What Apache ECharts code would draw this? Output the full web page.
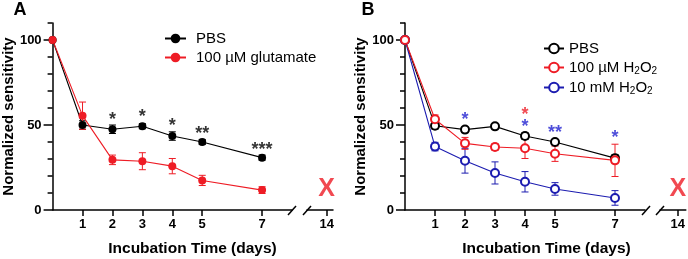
<!DOCTYPE html>
<html>
<head>
<meta charset="utf-8">
<script src="https://cdn.jsdelivr.net/npm/echarts@6/dist/echarts.min.js"></script>
<style>
  html, body { margin: 0; padding: 0; background: #fff; }
  #chart { width: 688px; height: 259px; }
</style>
</head>
<body>
<div id="chart"></div>
<script>
// x values (days) and tick labels
const days = [0, 1, 2, 3, 4, 5, 7];
const dayTicks = [1, 2, 3, 4, 5, 7];
const lateTicks = [14];
const yLabels = [0, 50, 100];
const yMinor = [10, 20, 30, 40, 60, 70, 80, 90, 110];

// Panel A
const pbsA = [100, 50, 47.5, 49.3, 43.5, 40, 30.8];
const pbsAErr = [0, 2.5, 2.5, 1.5, 2.5, 1.5, 1.5];
const gluA = [100, 55.5, 29.5, 28.7, 25.8, 17.4, 11.7];
const gluAErr = [0, 8, 2.8, 5, 4.5, 3, 2];
const starDaysA = [2, 3, 4, 5, 7];
const starPosA = [55.3, 57, 52, 47, 37.6];
const starTextA = ['*', '*', '*', '**', '***'];

// Panel B
const pbsB = [100, 49.6, 47.3, 49.2, 43.5, 40, 30.5];
const pbsBErr = [0, 2, 1.5, 1, 2, 1.5, 2];
const h100B = [100, 53.4, 39.2, 37.1, 36.3, 33.1, 29.2];
const h100BErr = [0, 2.5, 3.5, 2, 6, 4.5, 9.5];
const h10B = [100, 37.3, 29, 21.8, 16.6, 12.4, 7.1];
const h10BErr = [0, 2.5, 7.3, 6.5, 6, 3.7, 4.3];
const starDaysB10 = [2, 4, 5, 7];
const starPosB10 = [55, 51, 47.5, 44.7];
const starTextB10 = ['*', '*', '**', '*'];
const starDaysB100 = [4];
const starPosB100 = [58.2];
const starTextB100 = ['*'];

// day 14: no surviving cells
const deadDay = [14];
const deadPos = [12.4];

const FONT = '"Liberation Sans", Arial, sans-serif';
const RED = '#ee1c25';
const BLUE = '#1c1cb0';

const chart = echarts.init(document.getElementById('chart'));

function errRender(params, api) {
  const x = api.value(0);
  const top = api.coord([x, api.value(2)]);
  const bot = api.coord([x, api.value(1)]);
  const w = 3.5;
  const style = { stroke: api.visual('color'), lineWidth: 1 };
  return {
    type: 'group',
    children: [
      { type: 'line', shape: { x1: top[0], y1: top[1], x2: bot[0], y2: bot[1] }, style },
      { type: 'line', shape: { x1: top[0] - w, y1: top[1], x2: top[0] + w, y2: top[1] }, style },
      { type: 'line', shape: { x1: bot[0] - w, y1: bot[1], x2: bot[0] + w, y2: bot[1] }, style }
    ]
  };
}

function errSeries(vals, errs, color, xi, yi) {
  return {
    type: 'custom',
    xAxisIndex: xi, yAxisIndex: yi,
    itemStyle: { color },
    renderItem: errRender,
    encode: { x: 0, y: [1, 2] },
    data: days.map((d, i) => [d, vals[i] - errs[i], vals[i] + errs[i]]),
    silent: true,
    z: 3
  };
}

function lineSeries(name, vals, color, open, xi, yi) {
  return {
    name,
    type: 'line',
    xAxisIndex: xi, yAxisIndex: yi,
    data: days.map((d, i) => [d, vals[i]]),
    symbol: open ? 'emptyCircle' : 'circle',
    symbolSize: 8,
    itemStyle: { color, borderWidth: open ? 1.6 : 0 },
    lineStyle: { color, width: 1.1 },
    z: 4
  };
}

function starSeries(ds, pos, txt, color, xi, yi) {
  return {
    type: 'scatter',
    xAxisIndex: xi, yAxisIndex: yi,
    symbolSize: 0,
    data: ds.map((d, i) => ({ value: [d, pos[i]], label: { formatter: txt[i] } })),
    label: {
      show: true, position: 'inside', offset: [0, 4],
      color, fontSize: 18, fontWeight: 'bold', fontFamily: FONT
    },
    silent: true, z: 5
  };
}

function deadSeries(xi, yi) {
  return {
    type: 'scatter',
    xAxisIndex: xi, yAxisIndex: yi,
    symbolSize: 0,
    data: deadDay.map((d, i) => [d, deadPos[i]]),
    label: {
      show: true, position: 'inside', formatter: 'X',
      color: RED, fontSize: 25, fontWeight: 'bold', fontFamily: FONT
    },
    silent: true, z: 5
  };
}

const axisLine = { lineStyle: { color: '#000', width: 1.5 } };
const labelStyle = { color: '#000', fontSize: 13, fontWeight: 'bold', fontFamily: FONT };

function mainX(gi) {
  return {
    type: 'value', gridIndex: gi, min: 0, max: 8,
    axisLine: { onZero: false, ...axisLine },
    axisTick: { customValues: dayTicks, length: 6, lineStyle: { color: '#000', width: 1.5 } },
    axisLabel: { customValues: dayTicks, margin: 8, ...labelStyle },
    splitLine: { show: false }
  };
}
function lateX(gi, min, max) {
  return {
    type: 'value', gridIndex: gi, min, max,
    axisLine: { onZero: false, ...axisLine },
    axisTick: { customValues: lateTicks, length: 6, lineStyle: { color: '#000', width: 1.5 } },
    axisLabel: { customValues: lateTicks, margin: 8, ...labelStyle },
    splitLine: { show: false }
  };
}
function minorY(gi) {
  return {
    type: 'value', gridIndex: gi, min: 0, max: 110, position: 'left',
    name: 'Normalized sensitivity', nameLocation: 'middle', nameGap: 36,
    nameTextStyle: { color: '#000', fontSize: 15, fontWeight: 'bold', fontFamily: FONT },
    axisLine: { show: true, onZero: false, ...axisLine },
    axisTick: { show: true, customValues: yMinor, length: 5, lineStyle: { color: '#000', width: 1.5 } },
    axisLabel: { customValues: yLabels, margin: 11, ...labelStyle },
    splitLine: { show: false }
  };
}
function majorY(gi) {
  return {
    type: 'value', gridIndex: gi, min: 0, max: 110, position: 'left', offset: 0,
    axisLine: { show: false, onZero: false },
    axisTick: { show: true, customValues: yLabels, length: 9, lineStyle: { color: '#000', width: 1.5 } },
    axisLabel: { show: false },
    splitLine: { show: false }
  };
}
function hiddenY(gi) {
  return { type: 'value', gridIndex: gi, min: 0, max: 110, show: false };
}

const slashesA = [292, 307];
const slashesB = [646, 660];
function slash(cx) {
  return {
    type: 'line',
    shape: { x1: cx - 4, y1: 215, x2: cx + 4, y2: 206 },
    style: { stroke: '#000', lineWidth: 1.5 }
  };
}
function txt(text, x, y, size) {
  return {
    type: 'text', x, y,
    style: { text, fill: '#000', font: 'bold ' + size + 'px ' + FONT, align: 'center', verticalAlign: 'middle' }
  };
}

const legendRich = {
  n: { fontSize: 15, fontFamily: FONT, color: '#000' },
  s: { fontSize: 10, fontFamily: FONT, color: '#000', padding: [7, 0, 0, 0] }
};

chart.setOption({
  animation: false,
  grid: [
    { left: 52, top: 23, width: 240, height: 187 },
    { left: 307, top: 23, width: 26, height: 187 },
    { left: 405, top: 23, width: 240, height: 187 },
    { left: 660, top: 23, width: 28, height: 187 }
  ],
  xAxis: [
    mainX(0),
    lateX(1, 13.343, 14.21),
    mainX(2),
    lateX(3, 13.357, 14.29)
  ],
  yAxis: [
    minorY(0),
    hiddenY(1),
    minorY(2),
    hiddenY(3),
    majorY(0),
    majorY(2)
  ],
  legend: [
    {
      data: ['PBS', '100 µM glutamate'],
      orient: 'vertical', left: 159, top: 26,
      itemWidth: 21, itemHeight: 12, itemGap: 4,
      textStyle: { color: '#000', fontSize: 15, fontFamily: FONT, padding: [0, 0, 0, 5] }
    },
    {
      data: ['PBS ', '100 µM H2O2', '10 mM H2O2'],
      orient: 'vertical', left: 538, top: 36,
      itemWidth: 20, itemHeight: 12, itemGap: 4,
      formatter: name => {
        const n = name.trim();
        if (n.indexOf('H2O2') < 0) return '{n|' + n + '}';
        return '{n|' + n.replace('H2O2', 'H') + '}{s|2}{n|O}{s|2}';
      },
      textStyle: { color: '#000', fontSize: 15, fontFamily: FONT, rich: legendRich }
    }
  ],
  graphic: [
    txt('A', 20, 10, 18),
    txt('B', 368, 10, 18),
    txt('Incubation Time (days)', 192.5, 249, 15.5),
    txt('Incubation Time (days)', 546.5, 249, 15.5),
    ...slashesA.map(slash),
    ...slashesB.map(slash)
  ],
  series: [
    errSeries(pbsA, pbsAErr, '#000', 0, 0),
    lineSeries('PBS', pbsA, '#000', false, 0, 0),
    errSeries(gluA, gluAErr, RED, 0, 0),
    lineSeries('100 µM glutamate', gluA, RED, false, 0, 0),
    starSeries(starDaysA, starPosA, starTextA, '#000', 0, 0),
    deadSeries(1, 1),

    errSeries(pbsB, pbsBErr, '#000', 2, 2),
    lineSeries('PBS ', pbsB, '#000', true, 2, 2),
    errSeries(h10B, h10BErr, BLUE, 2, 2),
    lineSeries('10 mM H2O2', h10B, BLUE, true, 2, 2),
    errSeries(h100B, h100BErr, RED, 2, 2),
    lineSeries('100 µM H2O2', h100B, RED, true, 2, 2),
    starSeries(starDaysB10, starPosB10, starTextB10, '#1f1fd0', 2, 2),
    starSeries(starDaysB100, starPosB100, starTextB100, RED, 2, 2),
    deadSeries(3, 3)
  ]
});
</script>
</body>
</html>
